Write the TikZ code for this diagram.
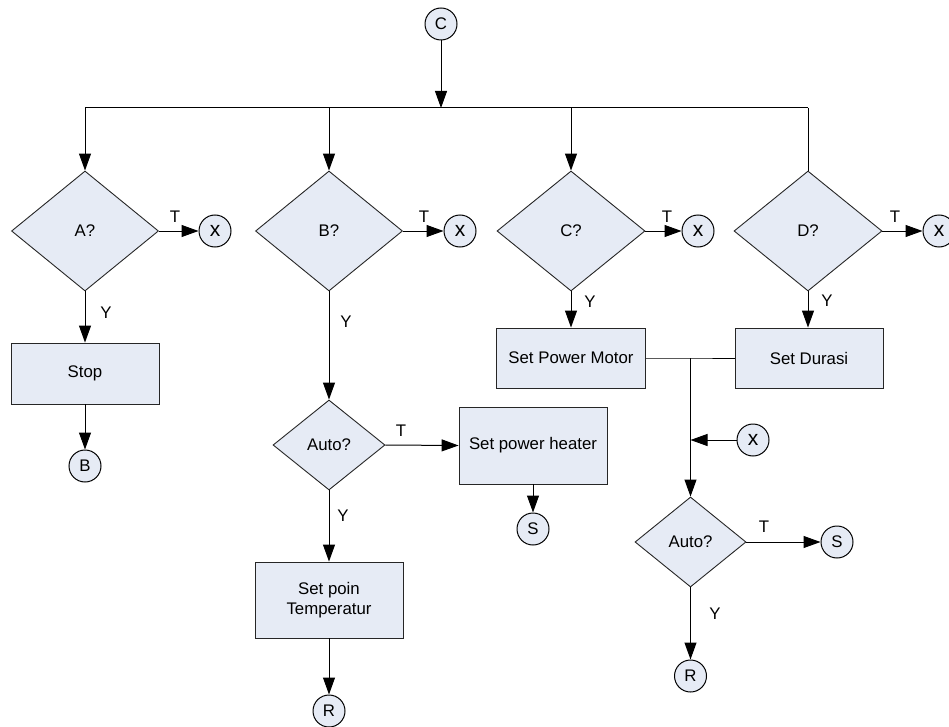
\documentclass[tikz,border=0pt]{standalone}
\usepackage{fontspec}
\setmainfont{Liberation Sans}
\usetikzlibrary{shapes.geometric,arrows.meta}
\definecolor{shapefill}{HTML}{E6EBF5}
\begin{document}
\begin{tikzpicture}[x=1pt,y=-1pt,
  every node/.style={font=\fontsize{16.8}{20}\selectfont},
  conn/.style={draw=black,line width=1pt,circle,fill=shapefill,minimum size=32pt,inner sep=0pt},
  xconn/.style={conn,font=\fontsize{21}{21}\selectfont},
  dec/.style={draw=black!85,line width=0.9pt,diamond,fill=shapefill,inner sep=0pt,aspect=1.2},
  proc/.style={draw=black!85,line width=0.9pt,rectangle,fill=shapefill,inner sep=2pt,align=center},
  lab/.style={inner sep=0pt},
  arr/.style={line width=1pt,-{Triangle[length=17pt,width=12pt]}},
  ln/.style={line width=1pt}]
\useasboundingbox (0,0) rectangle (949,727);

% top connector
\node[conn] (C) at (441,24) {C};
\coordinate (jC) at (441,108);
\coordinate (jA) at (85,108);
\coordinate (jB) at (329,108);
\coordinate (jCc) at (571,108);
\coordinate (jD) at (808,108);

% decisions
\node[dec,minimum width=147pt,minimum height=120pt] (dA) at (85,231) {A?};
\node[dec,minimum width=147pt,minimum height=120pt] (dB) at (329,231) {B?};
\node[dec,minimum width=148pt,minimum height=120pt] (dC) at (571,231) {C?};
\node[dec,minimum width=148pt,minimum height=120pt] (dD) at (808,231) {D?};

% x connectors
\node[xconn] (xA) at (215,231) {x};
\node[xconn] (xB) at (460,231) {x};
\node[xconn] (xC) at (698,231) {x};
\node[xconn] (xD) at (939,231) {x};

% T labels
\node[lab] (tA) at (175,217) {T};
\node[lab] (tB) at (424,217) {T};
\node[lab] (tC) at (667,217) {T};
\node[lab] (tD) at (895,217) {T};

% Y labels
\node[lab] (yA) at (106,313) {Y};
\node[lab] (yB) at (346,322) {Y};
\node[lab] (yC) at (590,302) {Y};
\node[lab] (yD) at (827,301) {Y};

% column A
\node[proc,minimum width=148pt,minimum height=61pt] (stop) at (85,373.5) {Stop};
\node[conn] (cB) at (85,466) {B};

% column B
\node[dec,minimum width=112pt,minimum height=90pt] (auto1) at (329,445) {Auto?};
\node[lab] (t1) at (401,431) {T};
\node[proc,minimum width=148pt,minimum height=77pt] (heater) at (533,445.5) {Set power heater};
\node[conn] (s1) at (533,529) {S};
\node[lab] (y1) at (343,516) {Y};
\node[proc,minimum width=148pt,minimum height=76pt] (temp) at (329,600) {Set poin\\Temperatur};
\node[conn] (r1) at (329,711) {R};

% columns C and D
\node[proc,minimum width=149pt,minimum height=60pt] (motor) at (571,358) {Set Power Motor};
\node[proc,minimum width=148pt,minimum height=60pt] (durasi) at (809,358) {Set Durasi};
\coordinate (jm) at (690.5,358);
\coordinate (jx) at (690.5,440);
\node[xconn] (x5) at (753,440) {x};
\node[dec,minimum width=111pt,minimum height=90pt] (auto2) at (690.5,542) {Auto?};
\node[lab] (t2) at (764,527) {T};
\node[conn] (s2) at (837,542) {S};
\node[lab] (y2) at (715,614) {Y};
\node[conn] (r2) at (690.5,676) {R};

% connectors
\draw[arr] (C) -- (jC);
\draw[ln] (jA) -- (jD);
\draw[arr] (jA) -- (dA.north);
\draw[arr] (jB) -- (dB.north);
\draw[arr] (jCc) -- (dC.north);
\draw[ln] (jD) -- (dD.north);

\draw[arr] (dA.east) -- (xA);
\draw[arr] (dB.east) -- (xB);
\draw[arr] (dC.east) -- (xC);
\draw[arr] (dD.east) -- (xD);

\draw[arr] (dA.south) -- (stop.north);
\draw[arr] (stop.south) -- (cB);

\draw[arr] (dB.south) -- (auto1.north);
\draw[arr] (auto1.east) -- (heater.west);
\draw[arr] (heater.south) -- (s1);
\draw[arr] (auto1.south) -- (temp.north);
\draw[arr] (temp.south) -- (r1);

\draw[arr] (dC.south) -- (motor.north);
\draw[arr] (dD.south) -- (durasi.north -| dD.south);
\draw[ln] (motor.east) -- (jm) -- (durasi.west);
\draw[arr] (jm) -- (auto2.north);
\draw[arr] (x5) -- (jx);
\draw[arr] (auto2.east) -- (s2);
\draw[arr] (auto2.south) -- (r2);
\end{tikzpicture}
\end{document}
